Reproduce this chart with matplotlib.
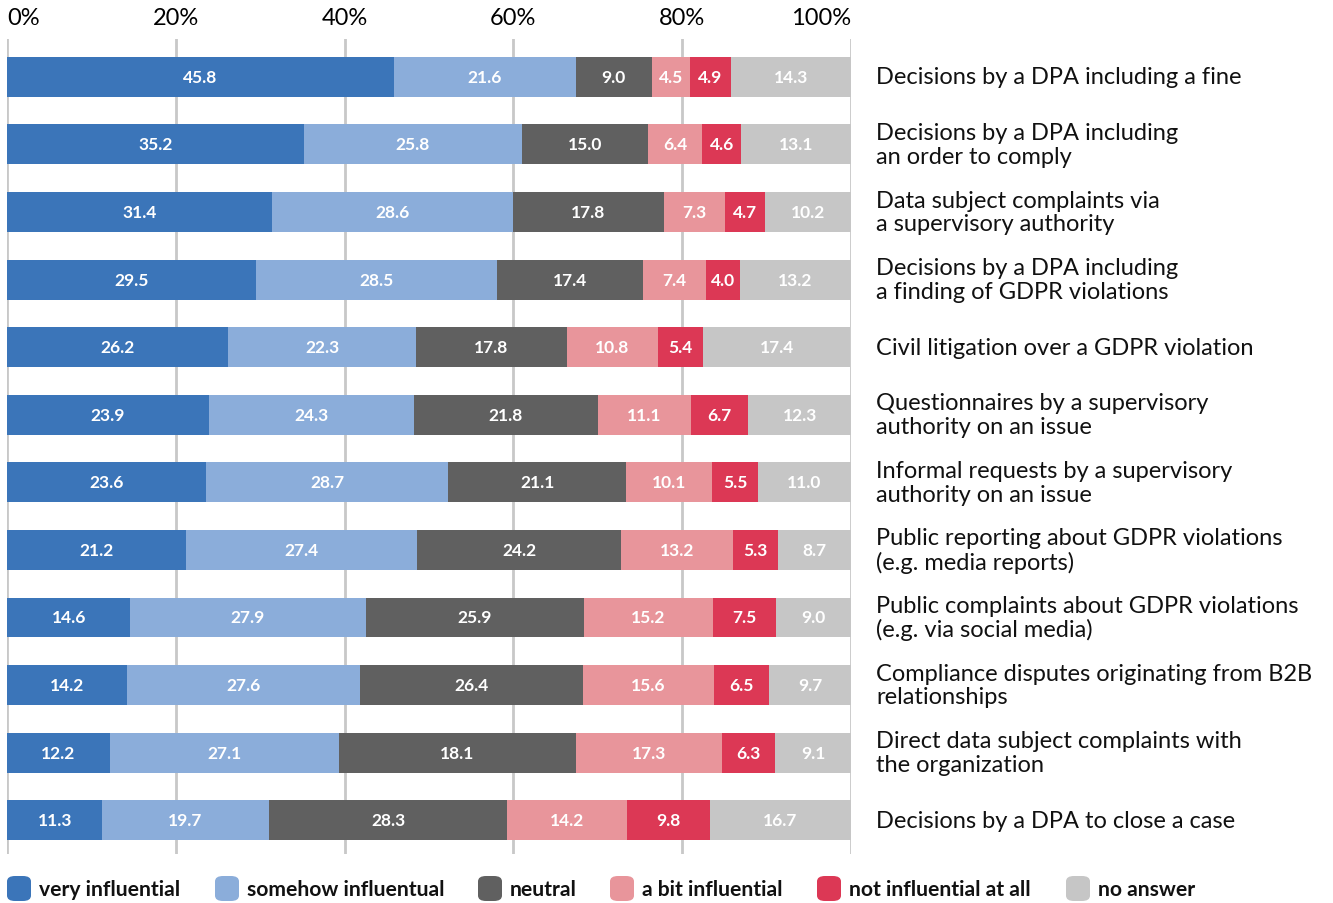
import matplotlib
matplotlib.use("Agg")
import matplotlib.pyplot as plt
from matplotlib.patches import FancyBboxPatch
import numpy as np

plt.rcParams['font.family'] = ['Lato', 'DejaVu Sans']

categories = [
    "Decisions by a DPA including a fine",
    "Decisions by a DPA including\nan order to comply",
    "Data subject complaints via\na supervisory authority",
    "Decisions by a DPA including\na finding of GDPR violations",
    "Civil litigation over a GDPR violation",
    "Questionnaires by a supervisory\nauthority on an issue",
    "Informal requests by a supervisory\nauthority on an issue",
    "Public reporting about GDPR violations\n(e.g. media reports)",
    "Public complaints about GDPR violations\n(e.g. via social media)",
    "Compliance disputes originating from B2B\nrelationships",
    "Direct data subject complaints with\nthe organization",
    "Decisions by a DPA to close a case",
]
series_names = ["very influential", "somehow influentual", "neutral",
                "a bit influential", "not influential at all", "no answer"]
very = [45.8, 35.2, 31.4, 29.5, 26.2, 23.9, 23.6, 21.2, 14.6, 14.2, 12.2, 11.3]
somehow = [21.6, 25.8, 28.6, 28.5, 22.3, 24.3, 28.7, 27.4, 27.9, 27.6, 27.1, 19.7]
# bar length as drawn (row 11 bar is ~28.1 wide although labelled 18.1)
neutral = [9.0, 15.0, 17.8, 17.4, 17.8, 21.8, 21.1, 24.2, 25.9, 26.4, 28.1, 28.3]
neutral_labels = [9.0, 15.0, 17.8, 17.4, 17.8, 21.8, 21.1, 24.2, 25.9, 26.4, 18.1, 28.3]
abit = [4.5, 6.4, 7.3, 7.4, 10.8, 11.1, 10.1, 13.2, 15.2, 15.6, 17.3, 14.2]
notatall = [4.9, 4.6, 4.7, 4.0, 5.4, 6.7, 5.5, 5.3, 7.5, 6.5, 6.3, 9.8]
noanswer = [14.3, 13.1, 10.2, 13.2, 17.4, 12.3, 11.0, 8.7, 9.0, 9.7, 9.1, 16.7]
colors = ["#3b75b9", "#8badda", "#606060", "#e8959b", "#dc3855", "#c6c6c6"]
tick_vals = [0, 20, 40, 60, 80, 100]
tick_labels = ["0%", "20%", "40%", "60%", "80%", "100%"]

data = [very, somehow, neutral, abit, notatall, noanswer]
labels = [very, somehow, neutral_labels, abit, notatall, noanswer]
W, H = 1333, 904
fig = plt.figure(figsize=(W / 100, H / 100), dpi=100)
ax = fig.add_axes([7 / W, 1 - 855 / H, (851 - 7) / W, (855 - 40) / H])

y = np.arange(len(categories))
left = np.zeros(len(categories))
for vals, labs, c in zip(data, labels, colors):
    vals = np.array(vals)
    ax.barh(y, vals, left=left, height=0.59, color=c, zorder=2)
    for yi, (l, v, lab) in enumerate(zip(left, vals, labs)):
        ax.text(l + v / 2, yi, f"{lab:.1f}", ha="center", va="center",
                color="white", fontsize=12.5, fontweight="bold", zorder=3)
    left += vals

ax.set_xlim(0, 100)
ax.set_ylim(11.5, -0.56)
ax.set_xticks(tick_vals)
ax.set_xticklabels(tick_labels, fontsize=17)
ax.xaxis.tick_top()
ax.tick_params(axis="x", length=0, pad=8)
tl = ax.get_xticklabels()
tl[0].set_ha("left")
tl[-1].set_ha("right")
ax.set_yticks([])
for s in ax.spines.values():
    s.set_visible(False)
for t in tick_vals:
    ax.axvline(t, color="#c8c8c8", lw=2, zorder=1)

for yi, cat in enumerate(categories):
    ax.text(103.0, yi, cat, ha="left", va="center", fontsize=17,
            color="#111111", linespacing=1.15)

# legend
leg_x = [7, 215, 478, 610, 817, 1066]
for lx, name, c in zip(leg_x, series_names, colors):
    fig.patches.append(FancyBboxPatch((lx / W, 1 - 902 / H), 24 / W, 25 / H,
                                      boxstyle="round,pad=0,rounding_size=0.006",
                                      transform=fig.transFigure, facecolor=c,
                                      edgecolor="none"))
    fig.text((lx + 32) / W, 1 - 890 / H, name, ha="left", va="center",
             fontsize=15.2, fontweight="bold", color="#111111")

fig.savefig("out.png", dpi=100)
